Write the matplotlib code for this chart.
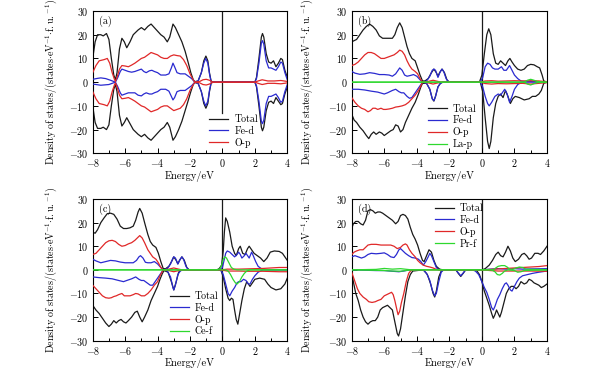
import matplotlib
matplotlib.use("Agg")
import matplotlib.pyplot as plt
from matplotlib.ticker import MultipleLocator

plt.rcParams['font.family'] = ['cmr10', 'Liberation Serif', 'DejaVu Serif']
plt.rcParams['mathtext.fontset'] = 'cm'
plt.rcParams['axes.formatter.use_mathtext'] = True
plt.rcParams['axes.unicode_minus'] = True

# ---------------- data (energy eV, DOS) ----------------
# Panel (a)
A_TOTAL_UP = [(-8,10),(-7.85,17),(-7.7,20),(-7.5,20),(-7.35,19.5),(-7.15,20.5),(-7.0,18),(-6.85,10),(-6.7,3),(-6.6,1),(-6.5,4),(-6.35,14),(-6.2,18.5),(-6.05,17),(-5.9,14.5),(-5.7,17),(-5.5,20),(-5.2,22),(-5.0,23),(-4.8,22),(-4.6,23.5),(-4.4,24.5),(-4.2,23),(-4.0,21.5),(-3.8,20),(-3.6,19),(-3.4,17),(-3.25,19),(-3.05,24.5),(-2.9,23),(-2.7,20),(-2.5,17),(-2.3,13),(-2.1,8),(-1.95,4),(-1.8,1),(-1.7,0.2),(-1.5,0.5),(-1.3,4),(-1.15,9),(-1.02,11),(-0.9,9),(-0.8,4),(-0.7,0.5),(-0.6,0),(2.0,0),(2.1,2),(2.25,10),(2.4,19),(2.47,20.5),(2.55,19),(2.7,12),(2.85,8.5),(3.0,8),(3.15,9),(3.3,6.5),(3.45,8),(3.6,10),(3.7,9.5),(3.85,5),(4.0,2)]
A_TOTAL_DN = [(-8,-10),(-7.85,-17),(-7.7,-19.5),(-7.5,-19.5),(-7.35,-19),(-7.15,-20),(-7.0,-18),(-6.85,-10),(-6.7,-3),(-6.6,-1),(-6.5,-4),(-6.35,-14),(-6.2,-18.5),(-6.05,-17),(-5.9,-15),(-5.7,-17.5),(-5.5,-20),(-5.2,-22),(-5.0,-23),(-4.8,-22),(-4.6,-23.5),(-4.4,-24.5),(-4.2,-23),(-4.0,-21.5),(-3.8,-20),(-3.6,-19),(-3.4,-17),(-3.25,-19),(-3.05,-24.5),(-2.9,-23),(-2.7,-20),(-2.5,-16.5),(-2.3,-12),(-2.1,-7.5),(-1.95,-4),(-1.8,-1),(-1.7,-0.2),(-1.5,-0.5),(-1.3,-4),(-1.15,-9),(-1.02,-11),(-0.9,-9),(-0.8,-4),(-0.7,-0.5),(-0.6,0),(2.0,0),(2.1,-2),(2.25,-10),(2.4,-19),(2.47,-20.5),(2.55,-19),(2.7,-12),(2.85,-8.5),(3.0,-8),(3.15,-9),(3.3,-6.5),(3.45,-8),(3.6,-9.5),(3.7,-9),(3.85,-5),(4.0,-2)]
A_FED_UP = [(-8,1.2),(-7.7,1.6),(-7.5,1.8),(-7.2,1.5),(-6.9,0.8),(-6.6,0),(-6.45,2),(-6.3,4.5),(-6.2,5.5),(-6.0,5),(-5.8,4.5),(-5.6,4.2),(-5.4,4.5),(-5.2,5),(-5.0,5.5),(-4.85,4.5),(-4.7,4),(-4.5,4.8),(-4.35,5),(-4.2,4.5),(-4.0,4),(-3.8,3),(-3.5,3),(-3.3,3.5),(-3.15,6),(-3.05,8),(-2.95,6.5),(-2.8,4),(-2.6,3.5),(-2.3,3.5),(-2.1,2.5),(-1.9,1.5),(-1.7,0),(-1.5,0.5),(-1.3,4),(-1.15,8),(-1.03,10),(-0.9,8),(-0.8,3.5),(-0.7,0.3),(-0.6,0),(2.0,0),(2.1,1.5),(2.25,8),(2.4,16.5),(2.47,17.5),(2.55,16),(2.7,9),(2.85,6),(3.0,6),(3.15,5.5),(3.3,5),(3.45,6.5),(3.6,8.5),(3.7,8),(3.85,4),(4.0,1)]
A_FED_DN = [(-8,-0.8),(-7.5,-1.3),(-7.0,-1),(-6.6,0),(-6.45,-2),(-6.3,-4.5),(-6.2,-5.5),(-6.0,-5),(-5.8,-4.5),(-5.6,-4.5),(-5.4,-4.5),(-5.2,-5.5),(-5.0,-5.8),(-4.85,-5),(-4.7,-4.5),(-4.5,-5),(-4.35,-5),(-4.2,-4.5),(-4.0,-4),(-3.8,-3),(-3.5,-3),(-3.3,-3.8),(-3.15,-6),(-3.05,-7.5),(-2.95,-6.5),(-2.8,-4),(-2.6,-3.5),(-2.3,-3.5),(-2.1,-2.5),(-1.9,-1.5),(-1.7,0),(-1.5,-0.5),(-1.3,-4),(-1.15,-8),(-1.03,-10),(-0.9,-8),(-0.8,-3.5),(-0.7,-0.3),(-0.6,0),(2.0,0),(2.1,-1.5),(2.25,-8),(2.4,-16.5),(2.47,-17.5),(2.55,-16),(2.7,-9),(2.85,-6),(3.0,-6),(3.15,-5.5),(3.3,-5),(3.45,-6.5),(3.6,-8.5),(3.7,-8),(3.85,-4),(4.0,-1)]
A_OP_UP = [(-8,4),(-7.8,7),(-7.6,9),(-7.3,9.5),(-7.1,10),(-6.95,8),(-6.8,4),(-6.65,1),(-6.6,0.3),(-6.5,2),(-6.35,5.5),(-6.2,7),(-6.0,6.8),(-5.8,6.5),(-5.6,7.2),(-5.4,8),(-5.2,9),(-5.0,10),(-4.8,10.5),(-4.6,11.5),(-4.4,12.5),(-4.2,12),(-4.0,11.5),(-3.8,10.5),(-3.6,10),(-3.4,10),(-3.2,11),(-3.0,11.5),(-2.8,11.2),(-2.6,11),(-2.4,9.5),(-2.2,7),(-2.0,3.5),(-1.8,1),(-1.7,0),(-1.4,0.3),(-1.2,1),(-1.0,1.2),(-0.8,0.8),(-0.6,0),(2.0,0),(2.2,0.5),(2.45,1),(2.8,0.5),(3.2,0.5),(3.6,0.7),(4.0,0.3)]
A_OP_DN = [(-8,-4),(-7.8,-7),(-7.6,-9),(-7.3,-9.5),(-7.1,-10),(-6.95,-8),(-6.8,-4),(-6.65,-1),(-6.6,-0.3),(-6.5,-2),(-6.35,-5.5),(-6.2,-7),(-6.0,-6.8),(-5.8,-6.5),(-5.6,-7.2),(-5.4,-8),(-5.2,-9),(-5.0,-10),(-4.8,-10.5),(-4.6,-11.5),(-4.4,-12.5),(-4.2,-12),(-4.0,-11.5),(-3.8,-10.5),(-3.6,-10),(-3.4,-10),(-3.2,-11),(-3.0,-12),(-2.8,-11.5),(-2.6,-11),(-2.4,-9.5),(-2.2,-7),(-2.0,-3.5),(-1.8,-1),(-1.7,0),(-1.4,-0.3),(-1.2,-1),(-1.0,-1.2),(-0.8,-0.8),(-0.6,0),(2.0,0),(2.2,-0.5),(2.45,-1),(2.8,-0.5),(3.2,-0.5),(3.6,-0.7),(4.0,-0.3)]

# Panel (b)
B_TOTAL_UP = [(-8,17),(-7.85,17.5),(-7.7,18),(-7.5,20),(-7.3,22),(-7.1,23.5),(-6.9,24.5),(-6.7,23.5),(-6.5,22),(-6.3,19.5),(-6.1,18.5),(-5.9,18.5),(-5.7,18.5),(-5.5,18.5),(-5.35,20),(-5.2,23),(-5.05,25),(-4.9,23),(-4.75,19),(-4.6,15),(-4.45,12),(-4.3,10),(-4.1,9),(-3.95,6),(-3.8,3),(-3.65,0.5),(-3.5,0.5),(-3.3,1.5),(-3.1,4),(-2.95,5.5),(-2.8,4),(-2.7,2.5),(-2.6,4),(-2.45,5.5),(-2.3,4),(-2.15,1),(-2.0,0),(-0.15,0),(0.0,3),(0.15,12),(0.3,20),(0.42,22.5),(0.55,20),(0.7,12),(0.85,8),(1.0,7.5),(1.15,9),(1.3,8),(1.45,7),(1.6,9),(1.72,10),(1.85,8.5),(2.0,7),(2.2,5.5),(2.4,5),(2.6,5.5),(2.8,7),(3.0,7.5),(3.2,7.3),(3.4,6.5),(3.55,6),(3.7,3),(3.8,0.5),(4.0,0)]
B_TOTAL_DN = [(-8,-13.5),(-7.85,-16),(-7.7,-17),(-7.5,-19),(-7.3,-20.5),(-7.1,-22.5),(-6.95,-23.8),(-6.8,-22),(-6.65,-21),(-6.5,-22),(-6.3,-21),(-6.15,-21.5),(-6.0,-22.5),(-5.8,-21.5),(-5.6,-20.5),(-5.45,-20),(-5.3,-18),(-5.15,-18.5),(-5.0,-21),(-4.85,-20),(-4.7,-17),(-4.5,-14),(-4.3,-11),(-4.1,-8.5),(-3.9,-5),(-3.75,-2),(-3.65,-0.5),(-3.4,-0.5),(-3.2,-3),(-3.05,-7),(-2.95,-8),(-2.85,-6),(-2.7,-2),(-2.55,-0.5),(-2.4,0),(-0.1,0),(0.05,-4),(0.2,-15),(0.35,-25),(0.45,-28),(0.55,-25),(0.7,-15),(0.85,-9),(1.0,-6),(1.15,-5),(1.3,-6.5),(1.45,-3.5),(1.6,-6),(1.75,-9),(1.9,-7),(2.05,-6),(2.3,-6.5),(2.6,-7.5),(2.9,-7),(3.1,-6),(3.3,-6),(3.5,-5),(3.65,-3.5),(3.8,-0.5),(4.0,0)]
B_FED_UP = [(-8,4.5),(-7.8,3.8),(-7.5,3.3),(-7.2,3.5),(-6.9,4),(-6.6,3.7),(-6.3,3.2),(-6.0,3.2),(-5.7,3),(-5.5,2.5),(-5.3,3.5),(-5.15,5),(-5.05,6),(-4.9,5),(-4.75,3),(-4.6,2.5),(-4.4,2.8),(-4.2,3.2),(-4.0,2.5),(-3.8,1),(-3.65,0),(-3.4,0.5),(-3.2,2.5),(-3.05,5),(-2.95,5.5),(-2.85,5),(-2.7,2),(-2.55,4.5),(-2.45,5.5),(-2.35,4.5),(-2.2,1.5),(-2.05,0),(-0.1,0),(0.05,2),(0.2,6.5),(0.35,8),(0.5,7.5),(0.65,6),(0.8,5.5),(1.0,5.5),(1.2,6.5),(1.35,5),(1.5,5),(1.7,7),(1.85,5),(2.0,3),(2.2,1.5),(2.4,0.5),(2.6,0.3),(3.0,0.3),(3.8,0),(4.0,0)]
B_FED_DN = [(-8,-3),(-7.6,-3),(-7.2,-3.3),(-6.8,-3.8),(-6.4,-4.2),(-6.0,-5),(-5.8,-4.5),(-5.5,-3.5),(-5.3,-3),(-5.1,-4),(-4.95,-4.5),(-4.8,-4.5),(-4.6,-6),(-4.45,-6.8),(-4.3,-6.5),(-4.15,-5),(-4.0,-3.5),(-3.8,-1.5),(-3.65,0),(-3.4,-0.5),(-3.2,-3),(-3.05,-7),(-2.95,-7.8),(-2.85,-6),(-2.7,-2),(-2.55,-0.5),(-2.4,0),(-0.1,0),(0.05,-2),(0.2,-6),(0.35,-9),(0.45,-10),(0.6,-8.5),(0.8,-6),(1.0,-5),(1.15,-5.5),(1.3,-4),(1.4,-3),(1.55,-5),(1.7,-8.5),(1.85,-6),(2.0,-3),(2.2,-1),(2.4,-0.2),(2.6,0),(4.0,0)]
B_OP_UP = [(-8,7),(-7.8,7.5),(-7.6,8.5),(-7.4,10),(-7.2,11.5),(-7.0,12.5),(-6.8,12.5),(-6.6,12),(-6.4,11),(-6.2,10),(-6.0,10),(-5.8,10.5),(-5.6,11),(-5.4,11.5),(-5.2,12.5),(-5.05,13.5),(-4.9,13),(-4.75,11.5),(-4.6,9),(-4.45,7),(-4.3,5.5),(-4.1,4.5),(-3.95,3.5),(-3.8,1.5),(-3.65,0),(-3.3,-0.3),(-3.0,-0.8),(-2.7,-0.3),(-2.5,0),(-0.1,0),(0.2,0.5),(0.6,0.6),(1.0,0.4),(1.5,0.5),(2.0,0.6),(2.5,0.5),(3.0,0.6),(3.5,0.5),(4.0,0.2)]
B_OP_DN = [(-8,-6.5),(-7.8,-8.5),(-7.6,-10),(-7.4,-11),(-7.2,-11.5),(-7.0,-12.5),(-6.85,-12),(-6.7,-11),(-6.55,-11),(-6.4,-11.5),(-6.2,-11),(-6.05,-11.5),(-5.9,-11.5),(-5.7,-11.3),(-5.5,-11),(-5.3,-10.5),(-5.1,-10.3),(-4.9,-10),(-4.7,-9.5),(-4.5,-8.5),(-4.3,-7),(-4.1,-5.5),(-3.9,-3.5),(-3.75,-1.5),(-3.65,0),(-3.3,0.3),(-3.0,0.8),(-2.7,0.3),(-2.5,0),(-0.1,0),(0.2,-0.6),(0.6,-0.8),(1.0,-0.6),(1.5,-0.7),(2.0,-0.6),(2.5,-0.5),(3.0,-0.8),(3.5,-0.5),(4.0,-0.2)]
B_LAP_UP = [(-8,0),(2.6,0),(2.8,0.8),(3.0,1.2),(3.2,0.8),(3.4,0.3),(4,0)]
B_LAP_DN = [(-8,0),(2.6,0),(2.8,-0.8),(3.0,-1.2),(3.2,-0.6),(3.4,-0.2),(4,0)]

# Panel (c)
C_TOTAL_UP = [(-8,16),(-7.85,15.5),(-7.7,17),(-7.5,20),(-7.3,22),(-7.1,23.8),(-6.9,24),(-6.7,23.5),(-6.5,21.5),(-6.3,18.5),(-6.1,17.5),(-5.9,17.5),(-5.7,17.8),(-5.5,18.5),(-5.35,21),(-5.2,24.5),(-5.1,26),(-4.95,24),(-4.8,20),(-4.6,15),(-4.45,12),(-4.3,10.5),(-4.1,9.5),(-3.95,7),(-3.8,3.5),(-3.65,0.5),(-3.5,0.5),(-3.3,1.5),(-3.1,4),(-3.0,5.5),(-2.85,4),(-2.75,2.5),(-2.65,4),(-2.5,5.5),(-2.35,4),(-2.2,1),(-2.05,0),(-0.35,0),(-0.2,0.5),(-0.05,2),(0.05,8),(0.12,16),(0.2,22),(0.3,20.5),(0.45,16),(0.6,10),(0.75,7),(0.85,6),(1.0,9),(1.1,10),(1.25,7),(1.4,6.5),(1.55,9),(1.65,10),(1.8,8.5),(1.95,7),(2.15,6),(2.35,5),(2.55,3.5),(2.75,5),(2.95,7.5),(3.2,8),(3.5,7.8),(3.7,7),(3.85,5.5),(4.0,4)]
C_TOTAL_DN = [(-8,-15),(-7.8,-17),(-7.6,-18.5),(-7.4,-20.5),(-7.2,-22.5),(-7.0,-24),(-6.85,-23),(-6.7,-21.5),(-6.55,-22.5),(-6.4,-21.5),(-6.25,-21),(-6.1,-22),(-5.95,-22.5),(-5.8,-21.5),(-5.6,-20),(-5.4,-18),(-5.25,-17.5),(-5.1,-20),(-4.95,-22),(-4.8,-20),(-4.6,-17),(-4.4,-13),(-4.2,-10),(-4.0,-7),(-3.85,-4),(-3.7,-1.5),(-3.6,-0.3),(-3.35,-1),(-3.15,-5),(-3.0,-8.5),(-2.85,-5),(-2.7,-1),(-2.55,0),(-0.1,0),(0.05,-3),(0.2,-8),(0.35,-12),(0.45,-13),(0.55,-12),(0.65,-12.5),(0.75,-17),(0.85,-21),(0.95,-23),(1.05,-19),(1.2,-13),(1.35,-8),(1.5,-5),(1.6,-6),(1.7,-7),(1.85,-5.5),(2.0,-4),(2.3,-3.5),(2.6,-4),(2.8,-6),(3.0,-7.5),(3.3,-8.5),(3.6,-8),(3.85,-6),(4.0,-3.5)]
C_FED_UP = [(-8,4.5),(-7.8,3.8),(-7.5,3),(-7.2,3.5),(-6.9,4),(-6.6,3.8),(-6.3,3.3),(-6.0,3),(-5.7,3),(-5.5,3),(-5.3,4),(-5.15,5.5),(-5.05,6),(-4.9,5),(-4.75,3.2),(-4.6,3),(-4.4,3),(-4.2,3.5),(-4.0,2.5),(-3.8,1),(-3.65,0),(-3.4,0.5),(-3.2,2.5),(-3.05,5),(-3.0,5.5),(-2.9,5),(-2.75,2.5),(-2.6,4.5),(-2.5,5.5),(-2.4,4.5),(-2.25,1.5),(-2.1,0),(-0.2,0),(0.0,1),(0.1,4),(0.2,7),(0.3,8),(0.45,7.5),(0.6,6.5),(0.75,5.5),(0.9,6.5),(1.0,7.5),(1.1,6.5),(1.2,5),(1.35,6),(1.45,7),(1.55,6),(1.65,5),(1.8,7.5),(1.9,6),(2.05,3.5),(2.2,1.5),(2.4,0.5),(2.6,0),(4.0,0)]
C_FED_DN = [(-8,-3),(-7.6,-3.3),(-7.2,-3.5),(-6.8,-3.8),(-6.4,-4.5),(-6.1,-5),(-5.9,-4.5),(-5.6,-3.8),(-5.35,-3),(-5.15,-4),(-5.0,-4.5),(-4.85,-4.5),(-4.65,-5.5),(-4.45,-6.5),(-4.3,-6.5),(-4.15,-5),(-4.0,-3.5),(-3.8,-1.5),(-3.65,0),(-3.4,-0.5),(-3.2,-3),(-3.05,-7.5),(-3.0,-8.5),(-2.9,-6.5),(-2.75,-2),(-2.6,-0.5),(-2.45,0),(-0.1,0),(0.05,-2),(0.2,-6),(0.35,-10),(0.45,-11),(0.6,-9),(0.75,-7.5),(0.9,-5.5),(1.0,-5),(1.15,-5),(1.3,-4),(1.45,-4.5),(1.6,-6),(1.7,-6),(1.85,-4),(2.0,-2.5),(2.2,-1),(2.4,-0.3),(2.6,0),(4.0,0)]
C_OP_UP = [(-8,6.5),(-7.8,7),(-7.6,8.5),(-7.4,10),(-7.2,11.5),(-7.0,12.3),(-6.8,12.5),(-6.6,12),(-6.4,10.8),(-6.2,10),(-6.0,10.3),(-5.8,11),(-5.6,11.5),(-5.4,12.5),(-5.25,13.5),(-5.1,14.5),(-4.95,13.5),(-4.8,11.5),(-4.6,8.5),(-4.45,7),(-4.3,5.5),(-4.1,4.5),(-3.95,3),(-3.8,1),(-3.65,0),(-3.3,-0.3),(-3.0,-0.8),(-2.7,-0.3),(-2.5,0),(-0.1,0),(0.3,0.3),(1.0,0.3),(1.5,0.4),(2.0,0.5),(2.5,0.6),(3.0,0.8),(3.5,1),(4.0,1)]
C_OP_DN = [(-8,-6.5),(-7.8,-8),(-7.6,-9.5),(-7.4,-11),(-7.2,-11.8),(-7.0,-12),(-6.85,-11.8),(-6.7,-11.3),(-6.55,-11),(-6.4,-10.5),(-6.2,-10),(-6.05,-11),(-5.9,-11),(-5.7,-11),(-5.5,-10.5),(-5.35,-10),(-5.2,-10.2),(-5.0,-11),(-4.8,-11),(-4.6,-10),(-4.4,-8.5),(-4.2,-6.5),(-4.0,-5),(-3.85,-2.5),(-3.65,0),(-3.3,0.3),(-3.0,0.8),(-2.7,0.3),(-2.5,0),(-0.1,0),(0.3,-0.5),(1.0,-0.5),(1.5,-0.6),(2.0,-0.6),(2.5,-0.6),(3.0,-0.7),(3.5,-0.8),(4.0,-0.8)]
C_CEF_UP = [(-8,0),(-0.3,0),(-0.15,0.5),(-0.05,2),(0.05,4.5),(0.15,5.5),(0.25,5),(0.4,3),(0.55,1),(0.7,0.3),(0.9,0),(4,0)]
C_CEF_DN = [(-8,0),(0.2,0),(0.35,-0.5),(0.5,-2),(0.65,-4),(0.8,-5.5),(0.9,-6),(1.05,-5),(1.2,-3),(1.35,-1.5),(1.5,-0.5),(1.7,0),(4,0)]

# Panel (d)
D_TOTAL_UP = [(-8,17.5),(-7.9,19.5),(-7.75,20.5),(-7.6,20.5),(-7.45,19.5),(-7.3,19),(-7.15,21),(-7.0,25),(-6.85,25.5),(-6.7,25),(-6.55,24),(-6.4,24.5),(-6.25,24.5),(-6.1,24),(-5.9,23),(-5.7,22),(-5.5,21),(-5.3,19.5),(-5.15,20.5),(-5.0,23),(-4.85,23.5),(-4.7,23),(-4.55,21.5),(-4.4,18),(-4.25,15),(-4.1,13),(-3.95,10.5),(-3.8,7),(-3.65,4),(-3.55,3.5),(-3.4,6),(-3.25,8.5),(-3.1,7.5),(-2.95,4),(-2.8,1.5),(-2.6,0.3),(-2.4,0),(0.0,0),(0.2,0.5),(0.45,2),(0.65,4),(0.85,6.5),(1.0,7.5),(1.15,6),(1.3,5.5),(1.45,7.5),(1.6,10),(1.75,8),(1.9,5),(2.05,3.5),(2.25,4.5),(2.45,6.5),(2.6,7),(2.75,6),(2.9,4.5),(3.05,5),(3.25,7),(3.45,7),(3.6,6.5),(3.8,8),(4.0,10)]
D_TOTAL_DN = [(-8,-1),(-7.9,-5),(-7.75,-10),(-7.6,-13),(-7.45,-17),(-7.3,-20),(-7.15,-22),(-7.0,-23),(-6.85,-22),(-6.7,-21.5),(-6.55,-21.5),(-6.4,-20),(-6.25,-17),(-6.1,-16),(-5.95,-15.5),(-5.8,-15),(-5.65,-16),(-5.5,-17),(-5.35,-22),(-5.2,-27),(-5.12,-28),(-5.0,-25),(-4.85,-18),(-4.7,-11),(-4.55,-5),(-4.4,-2),(-4.25,-0.5),(-3.6,0),(-3.35,-2),(-3.15,-6),(-3.0,-10),(-2.9,-11.5),(-2.8,-9),(-2.65,-3),(-2.5,-0.5),(-2.3,0),(-1.6,0),(-1.45,-1.5),(-1.3,-2.8),(-1.15,-1.5),(-1.0,0),(-0.5,0),(-0.3,-0.5),(-0.15,-2),(0.0,-5),(0.15,-9),(0.3,-12),(0.45,-15),(0.6,-18.5),(0.7,-20.5),(0.8,-19),(0.9,-17),(1.0,-18.5),(1.1,-20),(1.2,-18),(1.35,-14),(1.5,-10),(1.65,-8),(1.8,-7),(1.95,-7),(2.1,-8),(2.25,-7),(2.4,-5),(2.6,-6),(2.75,-5.5),(2.9,-4),(3.05,-4.5),(3.2,-5.5),(3.35,-6),(3.5,-6.5),(3.65,-7.5),(3.8,-7),(4.0,-6)]
D_FED_UP = [(-8,5.5),(-7.8,6),(-7.6,5.5),(-7.4,5),(-7.2,5.5),(-7.0,6.5),(-6.8,7),(-6.5,6.8),(-6.2,7),(-6.0,7.2),(-5.8,6.5),(-5.6,5.5),(-5.4,5.2),(-5.25,6.5),(-5.1,8.5),(-5.0,9),(-4.85,8),(-4.7,7),(-4.5,6),(-4.3,5.2),(-4.1,5),(-3.9,4.5),(-3.75,3.5),(-3.6,2),(-3.45,3.5),(-3.3,5.5),(-3.2,7),(-3.1,6),(-2.95,3.5),(-2.8,1),(-2.65,0),(0.0,0),(0.5,0.3),(1.0,0.5),(1.5,0.3),(2.0,0.5),(2.5,0.3),(3.0,0.4),(4.0,0.5)]
D_FED_DN = [(-8,0),(-7.5,-0.1),(-7.0,-0.2),(-6.5,-0.3),(-6.0,-0.3),(-5.5,-0.6),(-5.1,-0.8),(-4.8,-0.5),(-4.5,-0.1),(-4.2,0),(-3.6,0),(-3.4,-1.5),(-3.2,-4.5),(-3.05,-8.5),(-2.9,-11),(-2.8,-10),(-2.65,-5),(-2.5,-1),(-2.35,0),(-1.6,0),(-1.45,-1.3),(-1.3,-2.5),(-1.15,-1.3),(-1.0,0),(-0.6,0),(-0.4,-0.5),(-0.2,-2),(0.0,-5),(0.15,-7.5),(0.3,-9.5),(0.45,-12.5),(0.6,-16),(0.7,-17),(0.8,-15.5),(0.95,-12.5),(1.1,-10.5),(1.25,-8),(1.4,-6),(1.5,-5.5),(1.6,-6.5),(1.75,-8.5),(1.85,-9),(2.0,-7),(2.15,-5),(2.3,-3.5),(2.5,-2.5),(2.8,-2),(3.1,-1.5),(3.5,-1),(4.0,-0.5)]
D_OP_UP = [(-8,6.5),(-7.85,7.5),(-7.7,8),(-7.5,8.5),(-7.3,8.5),(-7.15,9.5),(-7.0,10.5),(-6.8,10.8),(-6.5,10.8),(-6.2,10.5),(-5.9,10.5),(-5.6,10.5),(-5.4,10),(-5.2,9),(-5.0,9.5),(-4.85,10.5),(-4.7,11),(-4.6,10.5),(-4.45,8.5),(-4.3,7),(-4.1,5.5),(-3.95,4),(-3.8,3),(-3.6,2),(-3.4,1.5),(-3.2,1.2),(-3.0,0.8),(-2.8,0.2),(-2.6,0),(0.0,0),(0.5,0.2),(1.0,0.4),(1.5,0.6),(2.0,0.8),(2.5,1),(3.0,1.2),(3.5,1.4),(4.0,1.8)]
D_OP_DN = [(-8,-1),(-7.9,-3),(-7.8,-5),(-7.65,-8),(-7.5,-10),(-7.3,-11.5),(-7.1,-12.5),(-6.95,-13.5),(-6.75,-13.8),(-6.55,-13.5),(-6.4,-13),(-6.2,-12.5),(-6.0,-11),(-5.85,-10.5),(-5.7,-10),(-5.55,-9.5),(-5.45,-10.5),(-5.35,-13),(-5.22,-17),(-5.15,-19),(-5.05,-17.5),(-4.95,-14),(-4.8,-10),(-4.65,-5),(-4.5,-1.5),(-4.35,-0.2),(-4.2,0),(0.0,0),(0.5,-0.3),(1.0,-0.5),(2.0,-0.5),(3.0,-0.5),(4.0,-0.6)]
D_PRF_UP = [(-8,0),(-6.5,0.2),(-6.0,0.6),(-5.5,0.3),(-5.0,0.5),(-4.6,0.2),(-4.3,0),(0.7,0),(0.85,0.8),(1.0,1.5),(1.2,1.8),(1.4,1.8),(1.55,1.2),(1.7,0.3),(1.9,0.2),(2.1,0.8),(2.3,1.2),(2.5,1),(2.7,0.3),(3.0,0.2),(4.0,0.1)]
D_PRF_DN = [(-8,0),(-6.5,-0.2),(-6.0,-0.3),(-5.5,-0.5),(-5.0,-0.6),(-4.6,-0.2),(-4.3,0),(0.6,0),(0.8,-0.8),(0.95,-2),(1.1,-2.2),(1.25,-1.5),(1.4,-0.5),(1.6,0),(2.0,-0.3),(2.2,-1),(2.4,-0.8),(2.6,-0.3),(3.0,-0.2),(4.0,-0.1)]

PANEL_LABELS = ['(a)', '(b)', '(c)', '(d)']
SPECIES_A = ['Total', 'Fe-d', 'O-p']
SPECIES_B = ['Total', 'Fe-d', 'O-p', 'La-p']
SPECIES_C = ['Total', 'Fe-d', 'O-p', 'Ce-f']
SPECIES_D = ['Total', 'Fe-d', 'O-p', 'Pr-f']
X_TICKS = [-8, -6, -4, -2, 0, 2, 4]
Y_TICKS = [-30, -20, -10, 0, 10, 20, 30]
X_LABEL = 'Energy/eV'
Y_LABEL = r'$\mathrm{Density\ of\ states/(states{\cdot}eV^{-1}{\cdot}f.u.^{-1})}$'

COLORS = ['#1a1a1a', '#2a2ad0', '#e02828', '#2ed82e']

panels = [
    (PANEL_LABELS[0], SPECIES_A, [(A_TOTAL_UP, A_TOTAL_DN), (A_FED_UP, A_FED_DN), (A_OP_UP, A_OP_DN)]),
    (PANEL_LABELS[1], SPECIES_B, [(B_TOTAL_UP, B_TOTAL_DN), (B_FED_UP, B_FED_DN), (B_OP_UP, B_OP_DN), (B_LAP_UP, B_LAP_DN)]),
    (PANEL_LABELS[2], SPECIES_C, [(C_TOTAL_UP, C_TOTAL_DN), (C_FED_UP, C_FED_DN), (C_OP_UP, C_OP_DN), (C_CEF_UP, C_CEF_DN)]),
    (PANEL_LABELS[3], SPECIES_D, [(D_TOTAL_UP, D_TOTAL_DN), (D_FED_UP, D_FED_DN), (D_OP_UP, D_OP_DN), (D_PRF_UP, D_PRF_DN)]),
]

fig = plt.figure(figsize=(6.02, 3.68), dpi=100)
W, H = 602.0, 368.0
# axes rectangles in pixels: left, top, right, bottom
rects = [(92.7, 11.0, 287.3, 153.3), (351.7, 11.0, 547.0, 153.3),
         (92.7, 199.0, 287.3, 340.7), (351.7, 199.0, 547.0, 340.7)]
ylab_x = [-0.173, -0.188, -0.173, -0.188]
leg_cfg = [('lower left', (0.60, 0.04)), ('lower left', (0.39, 0.03)),
           ('lower left', (0.395, 0.03)), ('upper left', (0.425, 0.965))]
vline_ymin = [17/60, 0, 0, 0]

FS = 7.2
for i, (lab, species, curves) in enumerate(panels):
    l, t, r, b = rects[i]
    ax = fig.add_axes([l / W, 1 - b / H, (r - l) / W, (b - t) / H])
    ax.axvline(0, ymin=vline_ymin[i], ymax=1, color='#1a1a1a', lw=0.9, zorder=1)
    for k, (up, dn) in enumerate(curves):
        xs = [p[0] for p in up]; ys = [p[1] for p in up]
        ax.plot(xs, ys, color=COLORS[k], lw=0.9, label=species[k], zorder=2 + k)
        xs = [p[0] for p in dn]; ys = [p[1] for p in dn]
        ax.plot(xs, ys, color=COLORS[k], lw=0.9, zorder=2 + k)
    ax.set_xlim(-8, 4)
    ax.set_ylim(-30, 30)
    ax.set_xticks(X_TICKS)
    ax.set_yticks(Y_TICKS)
    ax.xaxis.set_minor_locator(MultipleLocator(1))
    ax.tick_params(which='both', direction='in', labelsize=FS, top=False, right=False, pad=3)
    ax.tick_params(which='major', length=3.5, width=0.7)
    ax.tick_params(which='minor', length=2, width=0.7)
    for s in ax.spines.values():
        s.set_linewidth(0.8)
    ax.set_xlabel(X_LABEL, fontsize=FS + 0.3)
    ax.xaxis.set_label_coords(0.5, -0.125)
    ax.set_ylabel(Y_LABEL, fontsize=FS)
    ax.yaxis.set_label_coords(ylab_x[i], 0.5)
    ax.text(0.03, 0.93, lab, transform=ax.transAxes, fontsize=FS, va='center', ha='left')
    loc, anc = leg_cfg[i]
    ax.legend(loc=loc, bbox_to_anchor=anc, frameon=False, fontsize=FS, borderpad=0,
              borderaxespad=0, handlelength=1.9, handletextpad=0.6, labelspacing=0.2)

fig.savefig('out.png', dpi=100)
